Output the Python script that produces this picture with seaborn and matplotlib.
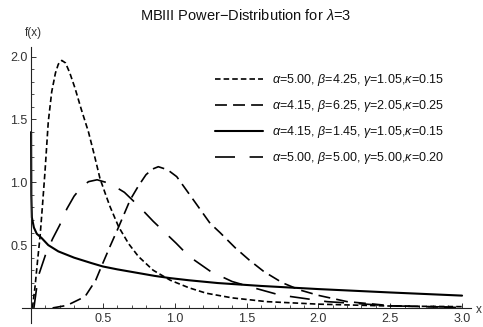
import numpy as np
import pandas as pd
import matplotlib
matplotlib.use("Agg")
import matplotlib.pyplot as plt
from matplotlib.ticker import FixedLocator
import seaborn as sns

sns.set_style("ticks")
plt.rcParams["font.family"] = ["Liberation Sans", "DejaVu Sans"]
plt.rcParams["mathtext.fontset"] = "custom"
plt.rcParams["mathtext.it"] = "Liberation Sans:italic"
plt.rcParams["mathtext.rm"] = "Liberation Sans"
plt.rcParams["lines.scale_dashes"] = False

# ---- data ----
labels = [
    r"$\alpha$=5.00, $\beta$=4.25, $\gamma$=1.05,$\kappa$=0.15",
    r"$\alpha$=4.15, $\beta$=6.25, $\gamma$=2.05,$\kappa$=0.25",
    r"$\alpha$=4.15, $\beta$=1.45, $\gamma$=1.05,$\kappa$=0.15",
    r"$\alpha$=5.00, $\beta$=5.00, $\gamma$=5.00,$\kappa$=0.20",
]

x_a = [0.01, 0.028, 0.045, 0.063, 0.08, 0.097, 0.12, 0.144, 0.17, 0.19, 0.214,
       0.24, 0.27, 0.306, 0.35, 0.40, 0.44, 0.48, 0.52, 0.55, 0.61, 0.68, 0.747,
       0.85, 0.97, 1.1, 1.22, 1.4, 1.64, 2.0, 2.5, 3.0]
y_a = [0.0, 0.17, 0.37, 0.57, 0.82, 1.08, 1.48, 1.72, 1.87, 1.94, 1.97,
       1.95, 1.87, 1.75, 1.58, 1.40, 1.22, 1.03, 0.90, 0.806, 0.645, 0.51, 0.41,
       0.30, 0.22, 0.16, 0.117, 0.08, 0.05, 0.03, 0.015, 0.01]

x_b = [0.15, 0.25, 0.376, 0.45, 0.49, 0.55, 0.61, 0.69, 0.747, 0.80, 0.845,
       0.886, 0.95, 1.014, 1.13, 1.246, 1.315, 1.42, 1.52, 1.62, 1.75, 1.87,
       2.0, 2.2, 2.52, 3.0]
y_b = [0.0, 0.02, 0.09, 0.22, 0.33, 0.49, 0.645, 0.86, 0.97, 1.06, 1.105,
       1.124, 1.10, 1.045, 0.86, 0.674, 0.60, 0.48, 0.38, 0.29, 0.20, 0.143,
       0.10, 0.05, 0.016, 0.003]

x_c = [0.0005, 0.002, 0.006, 0.02, 0.04, 0.074, 0.12, 0.19, 0.3, 0.42, 0.5,
       0.6, 0.76, 0.86, 0.97, 1.1, 1.3, 1.6, 2.0, 2.5, 3.0]
y_c = [1.40, 0.90, 0.72, 0.64, 0.59, 0.556, 0.50, 0.45, 0.40, 0.357, 0.33,
       0.307, 0.275, 0.255, 0.237, 0.22, 0.198, 0.175, 0.150, 0.123, 0.098]

x_d = [0.02, 0.05, 0.10, 0.15, 0.20, 0.25, 0.30, 0.35, 0.40, 0.46, 0.55, 0.65,
       0.75, 0.85, 1.01, 1.1, 1.25, 1.4, 1.55, 1.73, 2.06, 2.52, 3.0]
y_d = [0.0, 0.25, 0.42, 0.55, 0.66, 0.79, 0.89, 0.96, 1.005, 1.02, 0.99, 0.92,
       0.81, 0.69, 0.515, 0.41, 0.29, 0.21, 0.16, 0.103, 0.05, 0.016, 0.005]

xs = [x_a, x_b, x_c, x_d]
ys = [y_a, y_b, y_c, y_d]
styles = [(0, (4.0, 2.2)), (0, (8.6, 4.4)), "-", (0, (14.4, 10.5))]
widths = [1.2, 1.2, 1.5, 1.2]

fig = plt.figure(figsize=(4.83, 3.27), dpi=100)
ax = fig.add_axes([22.4 / 483, 4 / 327, (471.4 - 22.4) / 483, (323 - 46.6) / 327])

for xv, yv, lab, ls, lw in zip(xs, ys, labels, styles, widths):
    df = pd.DataFrame({"x": xv, "y": yv})
    sns.lineplot(data=df, x="x", y="y", ax=ax, color="black", linestyle=ls,
                 linewidth=lw, estimator=None, sort=False, label=lab)

ax.set_xlim(-0.06, 3.065)
ax.set_ylim(-0.12, 2.08)
ax.set_xlabel("")
ax.set_ylabel("")

for s in ["top", "right"]:
    ax.spines[s].set_visible(False)
ax.spines["left"].set_position(("data", 0))
ax.spines["bottom"].set_position(("data", 0))
for s in ["left", "bottom"]:
    ax.spines[s].set_color("#222222")
    ax.spines[s].set_linewidth(0.8)

ax.xaxis.set_major_locator(FixedLocator([0.5, 1.0, 1.5, 2.0, 2.5, 3.0]))
ax.xaxis.set_minor_locator(FixedLocator([round(0.1 * i, 1) for i in range(0, 31)]))
ax.yaxis.set_major_locator(FixedLocator([0.5, 1.0, 1.5, 2.0]))
ax.yaxis.set_minor_locator(FixedLocator([round(0.1 * i, 1) for i in range(1, 21)]))
ax.xaxis.set_major_formatter(matplotlib.ticker.FormatStrFormatter("%.1f"))
ax.yaxis.set_major_formatter(matplotlib.ticker.FormatStrFormatter("%.1f"))
ax.tick_params(which="major", direction="in", length=3.8, width=0.7,
               color="#333333", labelsize=9, labelcolor="#333333")
ax.tick_params(which="minor", direction="in", length=2.0, width=0.6, color="#333333")
ax.tick_params(axis="x", pad=3.5)
ax.tick_params(axis="y", pad=2.5)

leg = ax.legend(loc="upper left", bbox_to_anchor=(215 / 483, 1 - 72 / 327),
                bbox_transform=fig.transFigure, frameon=False, fontsize=9,
                handlelength=3.85, handletextpad=0.72, labelspacing=0.8,
                borderpad=0, borderaxespad=0)
for t in leg.get_texts():
    t.set_color("#111111")

fig.text(246 / 483, 1 - 15 / 327, r"MBIII Power$-$Distribution for $\lambda$=3",
         ha="center", va="center", fontsize=10.5, color="#111111")
fig.text(33 / 483, 1 - 33 / 327, "f(x)", ha="center", va="center", fontsize=8.5,
         color="#333333")
fig.text(476 / 483, 1 - 310 / 327, "x", ha="left", va="center", fontsize=8.5,
         color="#333333")

fig.savefig("out.png", dpi=100)
